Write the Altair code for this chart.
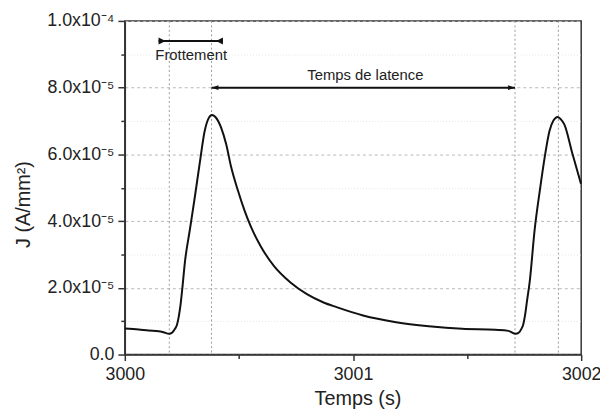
import altair as alt
import pandas as pd

# ---- data ----
time_s = [3000.000, 3000.061, 3000.104, 3000.148, 3000.169, 3000.194, 3000.208, 3000.220,
          3000.228, 3000.236, 3000.244, 3000.252, 3000.263, 3000.285, 3000.307, 3000.328,
          3000.350, 3000.367, 3000.382, 3000.397, 3000.422, 3000.444, 3000.466, 3000.495,
          3000.524, 3000.552, 3000.596, 3000.654, 3000.726, 3000.798, 3000.871, 3000.928,
          3001.044, 3001.189, 3001.332, 3001.478, 3001.623, 3001.681, 3001.713, 3001.727,
          3001.738, 3001.746, 3001.754, 3001.762, 3001.774, 3001.796, 3001.819, 3001.840,
          3001.861, 3001.879, 3001.897, 3001.911, 3001.926, 3001.962, 3001.999]
J_e5 = [0.78, 0.75, 0.72, 0.70, 0.67, 0.62, 0.66, 0.77,
        0.88, 1.12, 1.48, 1.98, 2.75, 3.74, 4.73, 5.72,
        6.70, 7.08, 7.18, 7.12, 6.80, 6.31, 5.62, 4.93,
        4.33, 3.84, 3.24, 2.65, 2.16, 1.81, 1.56, 1.42,
        1.17, 0.97, 0.85, 0.77, 0.74, 0.71, 0.62, 0.66,
        0.77, 0.90, 1.18, 1.58, 2.16, 3.74, 4.93, 5.91,
        6.70, 7.02, 7.12, 7.05, 6.90, 6.01, 5.12]
J = [v * 1e-5 for v in J_e5]

marker_t = [3000.195, 3000.38, 3001.71, 3001.90]

frott_t = [3000.148, 3000.430]
frott_J = 9.4e-5
lat_t = [3000.38, 3001.71]
lat_J = 8.0e-5

text_labels = ["Frottement", "Temps de latence"]
text_t = [3000.291, 3001.054]
text_J = [8.99e-5, 8.37e-5]

x_ticks = [3000, 3000.5, 3001, 3001.5, 3002]
y_ticks = [i * 1e-5 for i in range(11)]

# ---- frames ----
curve = pd.DataFrame({"t": time_s, "J": J})
markers = pd.DataFrame({"t": marker_t})
arrows = pd.DataFrame({"t": [frott_t[0], lat_t[0]], "t2": [frott_t[1], lat_t[1]],
                       "J": [frott_J, lat_J]})
heads = pd.DataFrame({
    "t": [frott_t[0], frott_t[1], lat_t[0], lat_t[1]],
    "J": [frott_J, frott_J, lat_J, lat_J],
    "kind": ["fl", "fr", "ll", "lr"],
})
texts = pd.DataFrame({"label": text_labels, "t": text_t, "J": text_J})

FONT = "Liberation Sans"
INK = "#111111"
AX = "#333333"

x_axis = alt.Axis(
    title="Temps (s)", values=x_ticks, grid=False,
    labelExpr="datum.value % 1 == 0 ? format(datum.value, 'd') : ''",
    tickSize={"condition": {"test": "datum.value % 1 == 0", "value": 6}, "value": 4},
    labelFlush=False, labelOverlap=False, labelPadding=5, titlePadding=5,
    titleX=235, titleFontSize=20,
)
y_axis = alt.Axis(
    title="J (A/mm²)", values=y_ticks, grid=True,
    labelExpr=("round(datum.value*1e5) == 0 ? '0.0' : (round(datum.value*1e5) % 2 != 0 ? '' : "
               "(round(datum.value*1e5) == 10 ? '1.0x10⁻⁴' : format(round(datum.value*1e5), '.1f') + 'x10⁻⁵'))"),
    tickSize={"condition": {"test": "round(datum.value*1e5) % 2 == 0", "value": 7}, "value": 4},
    gridDash={"condition": {"test": "round(datum.value*1e5) % 2 == 0", "value": [3, 3]}, "value": [1, 2]},
    gridColor={"condition": {"test": "round(datum.value*1e5) % 2 == 0", "value": "#b8b8b8"}, "value": "#e4e4e4"},
    labelOverlap=False, labelPadding=4,
    titleX=-102, titleY=185, titleBaseline="middle", titleAlign="center", titleFontSize=20,
)

xs = alt.Scale(domain=[3000, 3002], nice=False, zero=False)
ys = alt.Scale(domain=[0, 1e-4], nice=False, zero=True)

line = alt.Chart(curve).mark_line(color=INK, strokeWidth=2, interpolate="monotone").encode(
    x=alt.X("t:Q", scale=xs, axis=x_axis),
    y=alt.Y("J:Q", scale=ys, axis=y_axis),
)

vrules = alt.Chart(markers).mark_rule(color="#9a9a9a", strokeWidth=1, strokeDash=[2, 2.5]).encode(
    x=alt.X("t:Q", scale=xs, axis=x_axis),
)

arrow_lines = alt.Chart(arrows).mark_rule(color=INK, strokeWidth=2).encode(
    x=alt.X("t:Q", scale=xs, axis=x_axis),
    x2="t2:Q",
    y=alt.Y("J:Q", scale=ys, axis=y_axis),
)

arrow_heads = alt.Chart(heads).mark_point(filled=True, color=INK, opacity=1, strokeWidth=0).encode(
    x=alt.X("t:Q", scale=xs, axis=x_axis),
    y=alt.Y("J:Q", scale=ys, axis=y_axis),
    shape=alt.Shape("kind:N", legend=None, scale=alt.Scale(
        domain=["fl", "fr", "ll", "lr"],
        range=["M0,-1 L2,0 L0,1 Z", "M0,-1 L-2,0 L0,1 Z",
               "M0,0 L2,-0.7 L2,0.7 Z", "M0,0 L-2,-0.7 L-2,0.7 Z"])),
    size=alt.Size("kind:N", legend=None, scale=alt.Scale(
        domain=["fl", "fr", "ll", "lr"], range=[49, 49, 100, 100])),
)

text_layer = alt.Chart(texts).mark_text(font=FONT, fontSize=15, color="#222222",
                                         align="center", baseline="middle").encode(
    x=alt.X("t:Q", scale=xs, axis=x_axis),
    y=alt.Y("J:Q", scale=ys, axis=y_axis),
    text="label:N",
)

chart = alt.layer(vrules, line, arrow_lines, arrow_heads, text_layer).properties(
    width=461, height=337,
    autosize=alt.AutoSizeParams(type="none"),
    padding={"left": 118, "top": 11, "right": 19, "bottom": 58},
).configure(
    background="white",
).configure_view(
    stroke=AX, strokeWidth=1.5,
).configure_axis(
    labelFont=FONT, titleFont=FONT, labelFontSize=18, titleFontSize=20,
    titleFontWeight="normal", labelColor="#222222", titleColor="#222222",
    domainColor=AX, domainWidth=1.5, tickColor=AX, tickWidth=1.5,
)

chart.save("out.html", embed_options={"renderer": "svg", "actions": False})
